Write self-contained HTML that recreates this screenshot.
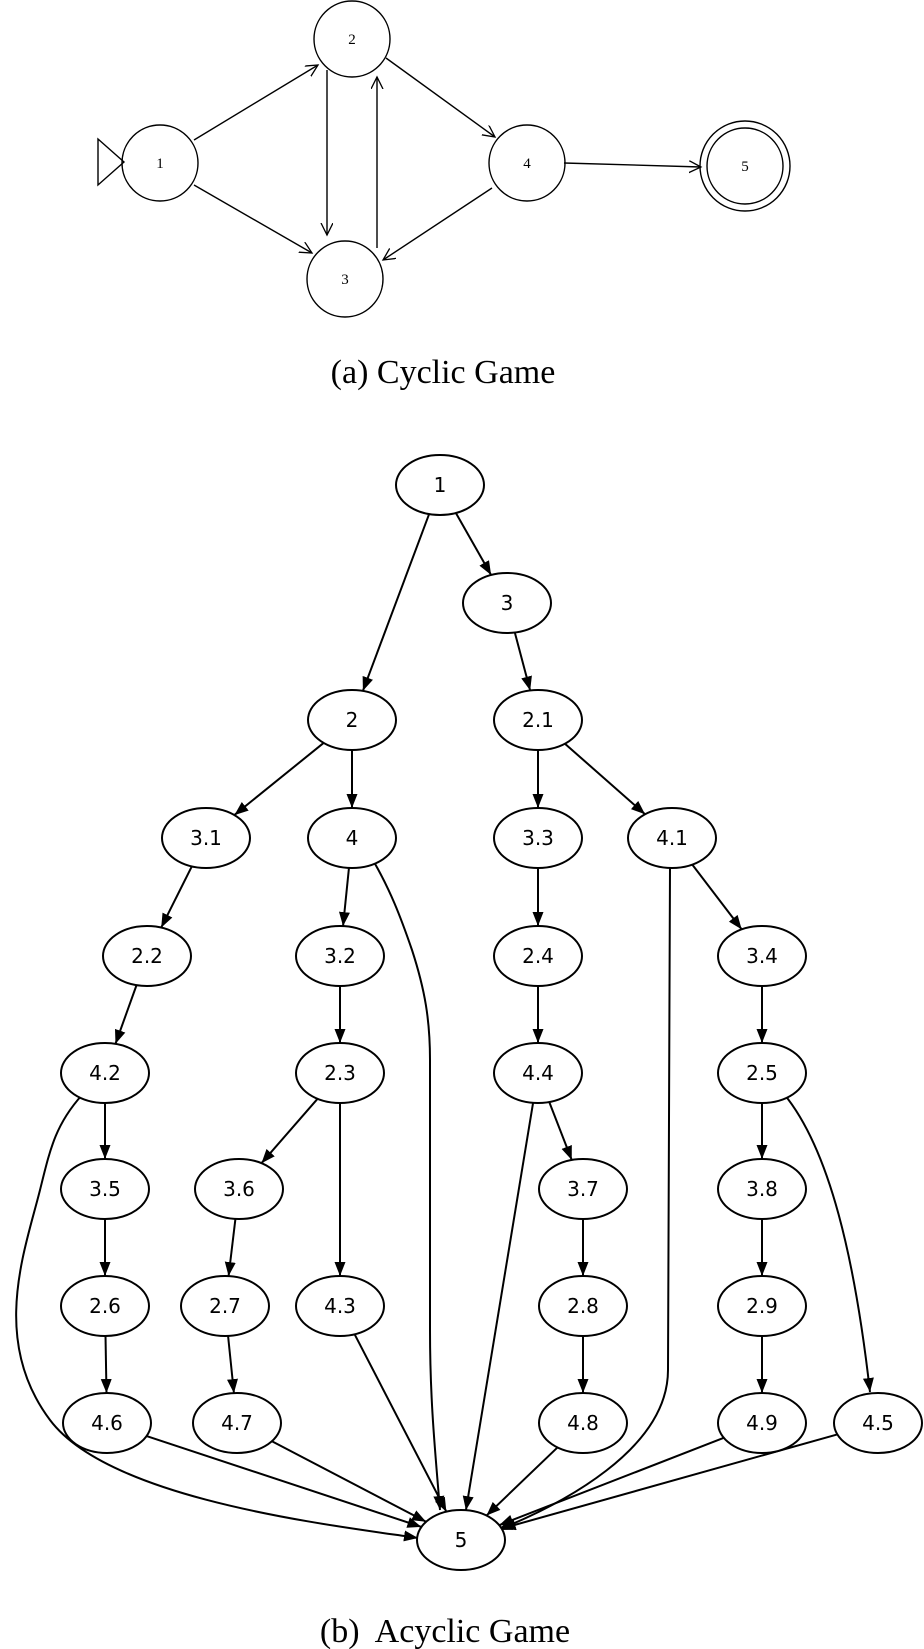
<!DOCTYPE html>
<html><head><meta charset="utf-8"><style>
html,body{margin:0;padding:0;background:#fff;}
svg{display:block;}
</style></head><body>
<svg id="s" width="924" height="1649" viewBox="0 0 924 1649" xmlns="http://www.w3.org/2000/svg">
<defs>
<marker id="open" markerUnits="userSpaceOnUse" markerWidth="20" markerHeight="20" refX="12" refY="6" orient="auto">
<path d="M0,0 L12,6 L0,12" fill="none" stroke="#000" stroke-width="1.3"/>
</marker>
<marker id="fill" markerUnits="userSpaceOnUse" markerWidth="20" markerHeight="20" refX="14" refY="5.5" orient="auto">
<path d="M0,0 L14,5.5 L0,11 Z" fill="#000"/>
</marker>
</defs>
<g fill="none" stroke="#000" stroke-width="1.4" font-family="Liberation Serif, serif">
<polygon points="98,139 124,162 98,185"/>
<ellipse cx="160" cy="163" rx="38" ry="38"/>
<ellipse cx="352" cy="39" rx="38" ry="38"/>
<ellipse cx="345" cy="279" rx="38" ry="38"/>
<ellipse cx="527" cy="163" rx="38" ry="38"/>
<circle cx="745" cy="166" r="45"/>
<circle cx="745" cy="166" r="38"/>
<line x1="194" y1="140" x2="318" y2="65" marker-end="url(#open)"/>
<line x1="194" y1="185" x2="312" y2="253" marker-end="url(#open)"/>
<line x1="327" y1="70" x2="327" y2="235" marker-end="url(#open)"/>
<line x1="377" y1="248" x2="377" y2="77" marker-end="url(#open)"/>
<line x1="386" y1="58" x2="495" y2="137" marker-end="url(#open)"/>
<line x1="492" y1="188" x2="383" y2="260" marker-end="url(#open)"/>
<line x1="564" y1="163" x2="701" y2="167" marker-end="url(#open)"/>
</g>
<g font-family="Liberation Serif, serif" font-size="15" text-anchor="middle" fill="#000">
<text x="160" y="168">1</text><text x="352" y="44">2</text><text x="345" y="284">3</text>
<text x="527" y="168">4</text><text x="745" y="171">5</text>
<text x="443" y="383" font-size="34">(a) Cyclic Game</text>
<text x="445" y="1642" font-size="34" xml:space="preserve">(b)  Acyclic Game</text>
</g>
<g id="edges" fill="none" stroke="#000" stroke-width="2"></g>
<g id="nodes"></g>
</svg>
<script>
var N={"1":[440,485],"3":[507,603],"2":[352,720],"2.1":[538,720],
"3.1":[206,838],"4":[352,838],"3.3":[538,838],"4.1":[672,838],
"2.2":[147,956],"3.2":[340,956],"2.4":[538,956],"3.4":[762,956],
"4.2":[105,1073],"2.3":[340,1073],"4.4":[538,1073],"2.5":[762,1073],
"3.5":[105,1189],"3.6":[239,1189],"3.7":[583,1189],"3.8":[762,1189],
"2.6":[105,1306],"2.7":[225,1306],"4.3":[340,1306],"2.8":[583,1306],"2.9":[762,1306],
"4.6":[107,1423],"4.7":[237,1423],"4.8":[583,1423],"4.9":[762,1423],"4.5":[878,1423],
"5":[461,1540]};
var RX=44,RY=30;
var E=[["1","2"],["1","3"],["3","2.1"],["2","3.1"],["2","4"],["2.1","3.3"],["2.1","4.1"],
["3.1","2.2"],["4","3.2"],["3.3","2.4"],["4.1","3.4"],["2.2","4.2"],["3.2","2.3"],["2.4","4.4"],["3.4","2.5"],
["4.2","3.5"],["2.3","3.6"],["4.4","3.7"],["2.5","3.8"],["3.5","2.6"],["3.6","2.7"],["2.3","4.3"],["3.7","2.8"],["3.8","2.9"],
["2.6","4.6"],["2.7","4.7"],["2.8","4.8"],["2.9","4.9"],
["4.6","5"],["4.7","5"],["4.8","5"],["4.9","5"],["4.3","5"],["4.4","5"],["4.5","5"]];
var ns="http://www.w3.org/2000/svg";
var eg=document.getElementById("edges"),ng=document.getElementById("nodes");
function clip(c,dx,dy){var t=1/Math.sqrt((dx/RX)*(dx/RX)+(dy/RY)*(dy/RY));return [c[0]+dx*t,c[1]+dy*t];}
E.forEach(function(e){var a=N[e[0]],b=N[e[1]];var dx=b[0]-a[0],dy=b[1]-a[1];
var p=clip(a,dx,dy),q=clip(b,-dx,-dy);
var l=document.createElementNS(ns,"line");l.setAttribute("x1",p[0]);l.setAttribute("y1",p[1]);
l.setAttribute("x2",q[0]);l.setAttribute("y2",q[1]);l.setAttribute("marker-end","url(#fill)");eg.appendChild(l);});
var C=["M82,1095 C55,1125 50,1150 40,1190 C25,1250 -10,1340 50,1420 C110,1500 330,1525 418,1538",
"M374,862 C390,890 400,915 412,950 C425,990 430,1020 430,1060 L430,1330 C430,1400 435,1450 440,1510",
"M670,867 L668,1370 C668,1450 560,1505 498,1530",
"M784,1094 C830,1150 855,1260 870,1392"];
C.forEach(function(d){var p=document.createElementNS(ns,"path");p.setAttribute("d",d);p.setAttribute("marker-end","url(#fill)");eg.appendChild(p);});
for(var k in N){var c=N[k];var el=document.createElementNS(ns,"ellipse");
el.setAttribute("cx",c[0]);el.setAttribute("cy",c[1]);el.setAttribute("rx",RX);el.setAttribute("ry",RY);
el.setAttribute("fill","#fff");el.setAttribute("stroke","#000");el.setAttribute("stroke-width","2");ng.appendChild(el);
var t=document.createElementNS(ns,"text");t.setAttribute("x",c[0]);t.setAttribute("y",c[1]+7);
t.setAttribute("text-anchor","middle");t.setAttribute("font-family","DejaVu Sans, sans-serif");t.setAttribute("font-size","20");
t.textContent=k;ng.appendChild(t);}
</script>
</body></html>
